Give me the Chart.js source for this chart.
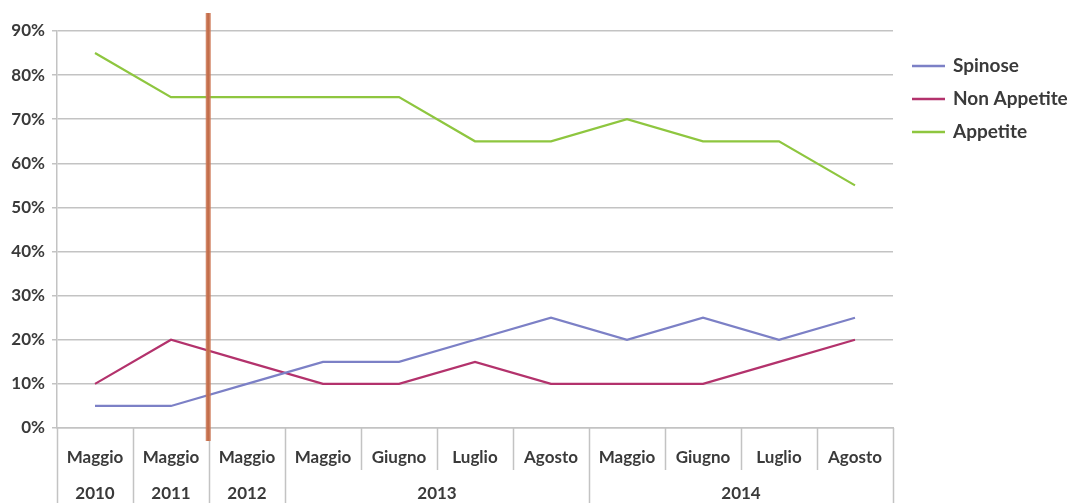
<!DOCTYPE html>
<html><head><meta charset="utf-8">
<script src="https://cdn.jsdelivr.net/npm/chart.js@4.4.1/dist/chart.umd.min.js"></script>
<style>html,body{margin:0;padding:0;background:#fff}#wrap{width:1072px;height:503px}</style>
</head><body><div id="wrap"><canvas id="c" width="1072" height="503"></canvas></div>
<script>
const months = ["Maggio","Maggio","Maggio","Maggio","Giugno","Luglio","Agosto","Maggio","Giugno","Luglio","Agosto"];
const years = ["2010","2011","2012","2013","2013","2013","2013","2014","2014","2014","2014"];
const spinose = [5,5,10,15,15,20,25,20,25,20,25];
const nonAppetite = [10,20,15,10,10,15,10,10,10,15,20];
const appetite = [85,75,75,75,75,65,65,70,65,65,55];
const yTicks = [0,10,20,30,40,50,60,70,80,90];
const seriesNames = ["Spinose","Non Appetite","Appetite"];
const seriesColors = ["#7c80c6","#b3326c","#8ec63f"];
const markerPosition = 1.49;

const FONT = "Lato, 'Open Sans', sans-serif";
const TXT = "#3a3a3a";
const GRID = "#c3c3c3";

const xExtras = {
  id: 'xExtras',
  afterDraw(chart) {
    const ctx = chart.ctx, xs = chart.scales.x, ca = chart.chartArea;
    const n = months.length;
    const step = xs.getPixelForValue(1) - xs.getPixelForValue(0);
    const bound = i => xs.getPixelForValue(i) - step / 2;
    ctx.save();
    ctx.strokeStyle = GRID; ctx.lineWidth = 1.5;
    for (let i = 0; i <= n; i++) {
      const x = Math.round(bound(i)) + 0.5;
      const yearEdge = i === 0 || i === n || years[i] !== years[i-1];
      ctx.beginPath(); ctx.moveTo(x, ca.bottom); ctx.lineTo(x, yearEdge ? 503 : ca.bottom + 42); ctx.stroke();
    }
    // year labels
    ctx.fillStyle = TXT; ctx.font = "bold 17px " + FONT; ctx.textAlign = "center"; ctx.textBaseline = "middle";
    let s = 0;
    for (let i = 1; i <= n; i++) {
      if (i === n || years[i] !== years[s]) {
        ctx.fillText(years[s], (bound(s) + bound(i)) / 2, ca.bottom + 66);
        s = i;
      }
    }
    // marker line
    const mx = xs.getPixelForValue(markerPosition);
    ctx.strokeStyle = "rgba(205,120,85,0.9)"; ctx.lineWidth = 5;
    ctx.beginPath(); ctx.moveTo(mx, 13); ctx.lineTo(mx, ca.bottom + 13); ctx.stroke();
    ctx.strokeStyle = "#c26c4a"; ctx.lineWidth = 2;
    ctx.beginPath(); ctx.moveTo(mx, 13); ctx.lineTo(mx, ca.bottom + 13); ctx.stroke();
    // legend
    ctx.textAlign = "left"; ctx.font = "bold 19px " + FONT;
    chart.data.datasets.forEach((d, i) => {
      const y = 66 + i * 33;
      ctx.strokeStyle = d.borderColor; ctx.lineWidth = 2.5;
      ctx.beginPath(); ctx.moveTo(912, y); ctx.lineTo(945, y); ctx.stroke();
      ctx.fillStyle = TXT; ctx.fillText(d.label, 953, y);
    });
    ctx.restore();
  }
};

new Chart(document.getElementById('c'), {
  type: 'line',
  data: {
    labels: months,
    datasets: [
      {label: seriesNames[0], data: spinose, borderColor: seriesColors[0]},
      {label: seriesNames[1], data: nonAppetite, borderColor: seriesColors[1]},
      {label: seriesNames[2], data: appetite, borderColor: seriesColors[2]}
    ].map(d => Object.assign(d, {borderWidth: 2.2, pointRadius: 0, tension: 0, fill: false}))
  },
  options: {
    responsive: false, animation: false,
    layout: {padding: {top: 31, right: 179, left: 0, bottom: 0}},
    plugins: {legend: {display: false}, tooltip: {enabled: false}},
    scales: {
      x: {
        offset: true,
        grid: {display: false, drawTicks: false},
        border: {display: true, color: GRID, width: 1.5},
        ticks: {color: TXT, font: {family: FONT, size: 17, weight: 'bold'}, padding: 19, maxRotation: 0, autoSkip: false},
        afterFit(s) { s.height = 75; }
      },
      y: {
        min: 0, max: 90,
        afterBuildTicks(s) { s.ticks = yTicks.map(v => ({value: v})); },
        grid: {color: GRID, lineWidth: 1.5, tickLength: 5},
        border: {display: true, color: GRID, width: 1.5},
        ticks: {color: TXT, font: {family: FONT, size: 17, weight: 'bold'}, padding: 7, callback: v => v + '%'},
        afterFit(s) { s.width = 57; }
      }
    }
  },
  plugins: [xExtras]
});
</script></body></html>
